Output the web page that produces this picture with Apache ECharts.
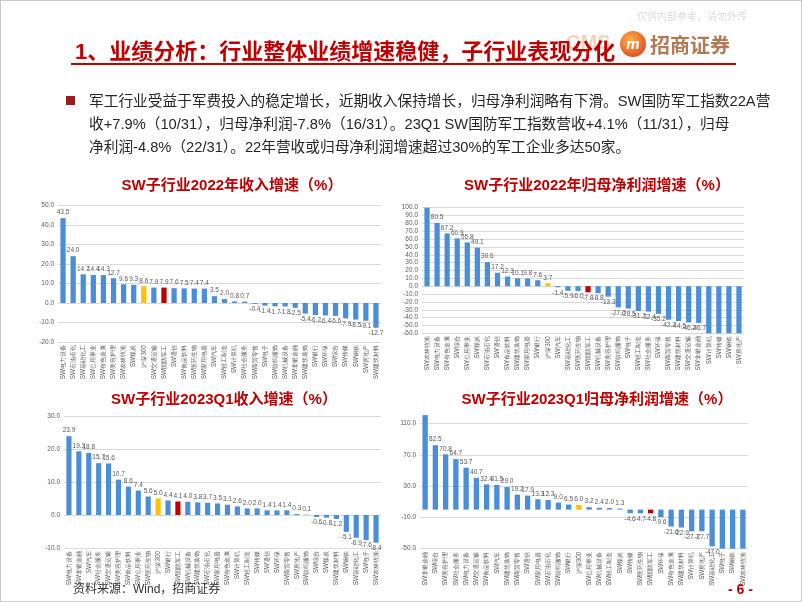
<!DOCTYPE html>
<html>
<head>
<meta charset="utf-8">
<script src="https://cdn.jsdelivr.net/npm/echarts@6/dist/echarts.min.js"></script>
<style>
  body { margin: 0; background: #fff; }
  #page { position: relative; width: 800px; height: 600px; border: 1px solid #c8c8c8; overflow: hidden;
          font-family: "Liberation Sans", "Noto Sans CJK SC", sans-serif; }
  #chart { position: absolute; left: 0; top: 0; width: 800px; height: 600px; }
  .abs { position: absolute; white-space: nowrap; }
  .ctitle { position: absolute; width: 360px; text-align: center; color: #c00000; font-weight: bold; font-size: 15px; }
</style>
</head>
<body>
<div id="page">
  <div id="chart"></div>
  <div class="abs" style="left:636px;top:7px;font-size:10px;color:#dcdcdc;">仅供内部参考，请勿外传</div>
  <div class="abs" style="left:565px;top:30px;font-size:20px;font-weight:bold;color:#f2d3b8;">CMS</div>
  <div class="abs" style="left:619px;top:30px;width:26px;height:26px;border-radius:13px;background:radial-gradient(circle at 40% 35%,#ffb347,#e2572a 70%,#c0301c);color:#fff;font-size:15px;font-style:italic;font-weight:bold;text-align:center;line-height:25px;">m</div>
  <div class="abs" style="left:649px;top:29px;font-size:20px;font-weight:bold;color:#b07a55;">招商证券</div>
  <div class="abs" style="left:74px;top:32px;font-size:22px;font-weight:bold;color:#c00000;">1、业绩分析：行业整体业绩增速稳健，子行业表现分化</div>
  <div class="abs" style="left:70px;top:62px;width:665px;height:2px;background:#c00000;"></div>
  <div class="abs" style="left:65px;top:95px;width:9px;height:9px;background:#9b1c1c;"></div>
  <div class="abs" style="left:88px;top:89px;font-size:14.7px;line-height:23px;color:#262626;">
    军工行业受益于军费投入的稳定增长，近期收入保持增长，归母净利润略有下滑。SW国防军工指数22A营<br>
    收+7.9%（10/31），归母净利润-7.8%（16/31）。23Q1 SW国防军工指数营收+4.1%（11/31），归母<br>
    净利润-4.8%（22/31）。22年营收或归母净利润增速超过30%的军工企业多达50家。
  </div>
  <div class="ctitle" style="left:51px;top:172px;">SW子行业2022年收入增速（%）</div>
  <div class="ctitle" style="left:416px;top:172px;">SW子行业2022年归母净利润增速（%）</div>
  <div class="ctitle" style="left:43px;top:386px;">SW子行业2023Q1收入增速（%）</div>
  <div class="ctitle" style="left:416px;top:386px;">SW子行业2023Q1归母净利润增速（%）</div>
  <div class="abs" style="left:72px;top:578px;font-size:12px;color:#333;">资料来源：Wind，招商证券</div>
  <div class="abs" style="left:727px;top:580px;font-size:14px;font-weight:bold;color:#c00000;">- 6 -</div>
</div>
<script>
// 2022年收入增速
const cats1 = ['SW电力设备','SW石油石化','SW基础化工','SW公用事业','SW有色金属','SW美容护理','SW农林牧渔','SW煤炭','沪深300','SW交通运输','SW国防军工','SW通信','SW食品饮料','SW医药生物','SW家用电器','SW汽车','SW轻工制造','SW计算机','SW社会服务','SW商贸零售','SW电子','SW纺织服饰','SW机械设备','SW非银金融','SW建筑装饰','SW银行','SW环保','SW综合','SW传媒','SW钢铁','SW房地产','SW建筑材料'];
const vals1 = [43.5,24.0,14.7,14.4,14.3,12.7,9.6,9.3,8.6,7.9,7.9,7.6,7.5,7.4,7.4,3.5,2.0,0.8,0.7,-0.4,-1.4,-1.7,-1.8,-2.5,-5.4,-6.2,-6.4,-6.6,-7.9,-8.5,-9.1,-12.7];
const ticks1 = [-20,-10,0,10,20,30,40,50];

// 2022年归母净利润增速
const cats2 = ['SW农林牧渔','SW电力设备','SW有色金属','SW综合','SW公用事业','SW煤炭','SW石油石化','SW通信','SW食品饮料','SW建筑装饰','SW家用电器','SW银行','沪深300','SW汽车','SW基础化工','SW医药生物','SW国防军工','SW机械设备','SW美容护理','SW纺织服饰','SW电子','SW轻工制造','SW社会服务','SW环保','SW商贸零售','SW建筑材料','SW交通运输','SW非银金融','SW计算机','SW传媒','SW钢铁','SW房地产'];
const vals2 = [100,80.5,67.2,60.9,55.8,49.1,30.6,17.2,12.3,10.1,9.8,7.6,3.7,-1.4,-5.9,-6.0,-7.8,-8.8,-13.3,-27.0,-28.5,-31.7,-32.4,-35.2,-42.7,-44.5,-46.2,-46.7,-60,-60,-60,-60];
const ticks2 = [-60,-50,-40,-30,-20,-10,0,10,20,30,40,50,60,70,80,90,100];

// 2023Q1收入增速
const cats3 = ['SW电力设备','SW非银金融','SW汽车','SW社会服务','SW交通运输','SW美容护理','SW食品饮料','SW公用事业','SW医药生物','沪深300','SW银行','SW国防军工','SW机械设备','SW建筑装饰','SW石油石化','SW家用电器','SW有色金属','SW计算机','SW轻工制造','SW传媒','SW通信','SW环保','SW商贸零售','SW房地产','SW纺织服饰','SW综合','SW煤炭','SW建筑材料','SW钢铁','SW基础化工','SW电子','SW农林牧渔'];
const vals3 = [23.9,19.3,18.8,15.7,15.6,10.7,8.6,7.4,5.6,5.0,4.4,4.1,4.0,3.8,3.7,3.5,3.1,2.6,2.0,2.0,1.4,1.4,1.4,0.3,0.1,-0.6,-0.8,-1.2,-5.1,-6.9,-7.6,-8.4];
const ticks3 = [-10,0,10,20,30];

// 2023Q1归母净利润增速
const cats4 = ['SW非银金融','SW综合','SW美容护理','SW社会服务','SW电力设备','SW交通运输','SW食品饮料','SW汽车','SW建筑装饰','SW商贸零售','SW通信','SW家用电器','SW石油石化','SW纺织服饰','SW银行','沪深300','SW公用事业','SW机械设备','SW轻工制造','SW煤炭','SW传媒','SW医药生物','SW国防军工','SW环保','SW有色金属','SW建筑材料','SW计算机','SW房地产','SW基础化工','SW电子','SW钢铁','SW农林牧渔'];
const vals4 = [121,82.5,70.8,64.7,53.7,40.7,32.4,31.5,29.0,19.2,17.9,13.3,12.3,9.0,6.5,6.0,3.2,2.4,2.0,1.3,-4.6,-4.7,-4.8,-9.6,-21.6,-22.9,-27.7,-27.7,-47.0,-50,-50,-50];
const ticks4 = [-50,-10,30,70,110];

const BLUE = '#4a8ed8', RED = '#c00000', YELLOW = '#ffc000';

const charts = [
  {cats: cats1, vals: vals1, ticks: ticks1, grid: {left: 57, top: 204.5, width: 323, height: 136.5}},
  {cats: cats2, vals: vals2, ticks: ticks2, grid: {left: 421, top: 206.7, width: 322, height: 125.6}},
  {cats: cats3, vals: vals3, ticks: ticks3, grid: {left: 63, top: 415, width: 317, height: 132}},
  {cats: cats4, vals: vals4, ticks: ticks4, grid: {left: 419, top: 422.7, width: 328, height: 125}}
];

let grid = [], xAxis = [], yAxis = [], series = [];
charts.forEach((c, i) => {
  const min = c.ticks[0], max = c.ticks[c.ticks.length - 1];
  grid.push(c.grid);
  xAxis.push({
    type: 'category', gridIndex: i, data: c.cats,
    axisLine: {show: false, onZero: false}, axisTick: {show: false},
    axisLabel: {rotate: 90, interval: 0, fontSize: 6.3, color: '#595959', margin: 3}
  });
  yAxis.push({
    type: 'value', gridIndex: i, min: min, max: max, interval: c.ticks[1] - c.ticks[0],
    axisLine: {show: false}, axisTick: {show: false},
    axisLabel: {fontSize: 6.5, color: '#595959', margin: 4, formatter: v => v.toFixed(1)},
    splitLine: {lineStyle: {color: '#d9d9d9', width: 1}}
  });
  series.push({
    type: 'bar', xAxisIndex: i, yAxisIndex: i, barWidth: '52%', clip: false,
    data: c.vals.map((v, k) => ({
      value: v,
      itemStyle: {color: c.cats[k] === 'SW国防军工' ? RED : (c.cats[k] === '沪深300' ? YELLOW : BLUE)},
      label: {show: v > min && v < max, position: v >= 0 ? 'top' : 'bottom'}
    })),
    label: {fontSize: 6.5, color: '#595959', distance: 2, formatter: p => p.value.toFixed(1)}
  });
});

const myChart = echarts.init(document.getElementById('chart'));
myChart.setOption({animation: false, grid, xAxis, yAxis, series});
</script>
</body>
</html>
